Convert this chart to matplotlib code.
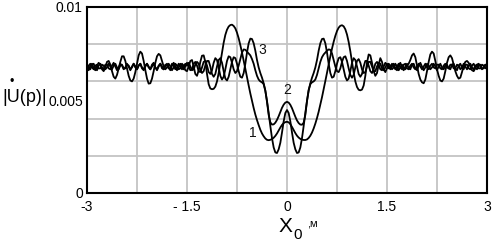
import numpy as np
import matplotlib
matplotlib.use("Agg")
import matplotlib.pyplot as plt

plt.rcParams['font.family'] = ['Liberation Sans', 'DejaVu Sans']

# values in units of 1e-3, sampled at x = -3 ... 3 (step 0.025)
curve1 = [
    6.75, 6.60, 6.85, 6.95, 6.70, 6.60, 6.85, 7.00, 6.90, 6.65,
    6.55, 6.75, 7.05, 7.10, 6.90, 6.55, 6.25, 6.15, 6.35, 6.70,
    7.05, 7.35, 7.35, 7.10, 6.70, 6.30, 6.05, 6.00, 6.15, 6.50,
    6.95, 7.40, 7.60, 7.50, 7.10, 6.60, 6.15, 5.88, 5.90, 6.15,
    6.55, 7.00, 7.35, 7.48, 7.40, 7.10, 6.80, 6.65, 6.75, 6.95,
    6.80, 6.60, 6.75, 6.95, 6.85, 6.65, 6.70, 6.95, 6.85, 6.60,
    6.55, 6.80, 7.10, 7.15, 6.80, 6.40, 6.30, 6.60, 7.05, 7.38,
    7.40, 7.05, 6.40, 5.85, 5.62, 5.58, 5.60, 5.72, 6.00, 6.45,
    7.00, 7.58, 8.08, 8.50, 8.78, 8.95, 9.03, 9.05, 8.98, 8.85,
    8.62, 8.32, 7.95, 7.55, 7.12, 6.68, 6.22, 5.78, 5.35, 4.95,
    4.57, 4.22, 3.92, 3.65, 3.40, 3.20, 3.05, 2.93, 2.86, 2.84,
    2.86, 2.90, 2.97, 3.07, 3.20, 3.36, 3.52, 3.66, 3.76, 3.81,
    3.83, 3.80, 3.70, 3.55, 3.38, 3.22, 3.08, 2.98, 2.91, 2.87,
    2.85, 2.85, 2.88, 2.96, 3.08, 3.25, 3.47, 3.73, 4.03, 4.37,
    4.75, 5.15, 5.58, 6.02, 6.47, 6.92, 7.35, 7.76, 8.13, 8.45,
    8.71, 8.89, 8.99, 9.02, 8.96, 8.80, 8.52, 8.12, 7.62, 7.05,
    6.48, 6.00, 5.70, 5.55, 5.52, 5.56, 5.78, 6.30, 7.00, 7.45,
    7.40, 7.00, 6.55, 6.30, 6.45, 6.90, 7.25, 7.05, 6.65, 6.50,
    6.70, 6.95, 6.85, 6.65, 6.75, 6.95, 6.80, 6.60, 6.75, 6.90,
    6.70, 6.65, 6.85, 6.95, 7.15, 7.40, 7.50, 7.30, 6.85, 6.40,
    6.10, 5.95, 5.90, 6.10, 6.55, 7.05, 7.45, 7.60, 7.50, 7.10,
    6.65, 6.30, 6.05, 6.00, 6.15, 6.55, 7.00, 7.30, 7.40, 7.25,
    6.90, 6.55, 6.30, 6.15, 6.20, 6.50, 6.85, 7.05, 7.10, 7.00,
    6.80, 6.60, 6.55, 6.70, 6.90, 6.95, 6.80, 6.65, 6.75, 6.90,
    6.80,
]

curve2 = [
    6.85, 6.70, 6.65, 6.90, 6.95, 6.70, 6.60, 6.85, 6.95, 6.75,
    6.65, 6.90, 6.90, 6.70, 6.65, 6.85, 7.00, 6.80, 6.60, 6.75,
    6.95, 6.85, 6.65, 6.75, 6.95, 6.80, 6.60, 6.80, 6.95, 6.75,
    6.65, 6.85, 6.95, 6.70, 6.60, 6.85, 6.95, 6.75, 6.65, 6.90,
    7.00, 6.75, 6.60, 6.80, 6.95, 6.80, 6.65, 6.80, 6.95, 6.75,
    6.60, 6.85, 7.00, 6.80, 6.60, 6.75, 6.95, 6.85, 6.65, 6.80,
    7.00, 6.80, 6.60, 6.65, 6.95, 7.05, 6.85, 6.55, 6.50, 6.75,
    7.05, 7.10, 6.85, 6.50, 6.40, 6.60, 7.00, 7.25, 7.15, 6.75,
    6.30, 6.10, 6.25, 6.65, 7.10, 7.35, 7.30, 7.00, 6.65, 6.45,
    6.55, 6.85, 7.20, 7.55, 7.72, 7.70, 7.60, 7.50, 7.40, 7.20,
    6.95, 6.60, 6.30, 6.10, 6.00, 5.95, 5.85, 5.50, 4.90, 4.20,
    3.80, 3.68, 3.69, 3.78, 3.93, 4.13, 4.36, 4.58, 4.75, 4.86,
    4.90, 4.86, 4.74, 4.56, 4.33, 4.10, 3.90, 3.76, 3.68, 3.67,
    3.78, 4.20, 4.95, 5.55, 5.85, 5.95, 6.00, 6.10, 6.35, 6.70,
    7.05, 7.30, 7.45, 7.55, 7.65, 7.72, 7.70, 7.50, 7.15, 6.80,
    6.55, 6.50, 6.70, 7.05, 7.30, 7.35, 7.10, 6.70, 6.35, 6.20,
    6.35, 6.75, 7.10, 7.20, 7.00, 6.65, 6.45, 6.50, 6.80, 7.05,
    7.05, 6.80, 6.55, 6.55, 6.80, 7.00, 6.95, 6.70, 6.60, 6.75,
    6.95, 6.85, 6.65, 6.80, 6.95, 6.70, 6.60, 6.85, 7.00, 6.75,
    6.60, 6.80, 6.95, 6.70, 6.65, 6.90, 6.95, 6.70, 6.60, 6.85,
    7.00, 6.80, 6.60, 6.75, 6.95, 6.85, 6.65, 6.75, 6.95, 6.80,
    6.60, 6.80, 6.95, 6.75, 6.65, 6.85, 6.90, 6.70, 6.65, 6.90,
    6.95, 6.70, 6.60, 6.85, 6.95, 6.75, 6.65, 6.90, 6.90, 6.70,
    6.65, 6.85, 6.95, 6.75, 6.65, 6.85, 6.90, 6.70, 6.70, 6.90,
    6.80,
]

curve3 = [
    6.70, 6.85, 6.95, 6.75, 6.65, 6.85, 6.90, 6.70, 6.70, 6.90,
    6.85, 6.65, 6.75, 6.95, 6.80, 6.65, 6.85, 6.95, 6.75, 6.65,
    6.85, 6.90, 6.70, 6.70, 6.90, 6.85, 6.65, 6.75, 6.95, 6.80,
    6.65, 6.85, 6.95, 6.75, 6.65, 6.80, 6.95, 6.80, 6.65, 6.80,
    6.95, 6.75, 6.65, 6.85, 6.95, 6.70, 6.65, 6.90, 6.90, 6.70,
    6.70, 6.95, 6.85, 6.65, 6.75, 6.95, 6.80, 6.65, 6.80, 6.95,
    6.85, 7.00, 6.80, 6.60, 6.65, 6.90, 7.05, 6.95, 6.65, 6.45,
    6.55, 6.85, 7.10, 7.10, 6.80, 6.40, 6.25, 6.40, 6.80, 7.15,
    7.25, 7.00, 6.55, 6.15, 6.05, 6.25, 6.65, 7.05, 7.30, 7.25,
    6.95, 6.55, 6.25, 6.20, 6.45, 6.95, 7.55, 8.05, 8.30, 8.28,
    8.05, 7.65, 7.15, 6.75, 6.45, 6.20, 5.90, 5.50, 4.95, 4.30,
    3.60, 2.95, 2.45, 2.18, 2.15, 2.35, 2.70, 3.25, 3.85, 4.30,
    4.46, 4.30, 3.85, 3.25, 2.70, 2.35, 2.15, 2.18, 2.45, 2.95,
    3.60, 4.30, 4.95, 5.50, 5.90, 6.20, 6.45, 6.75, 7.15, 7.65,
    8.05, 8.28, 8.30, 8.05, 7.55, 6.95, 6.45, 6.20, 6.25, 6.55,
    6.95, 7.25, 7.30, 7.05, 6.65, 6.25, 6.05, 6.15, 6.55, 7.00,
    7.25, 7.15, 6.80, 6.40, 6.25, 6.40, 6.80, 7.10, 7.10, 6.85,
    6.55, 6.45, 6.65, 6.95, 7.05, 6.90, 6.65, 6.60, 6.80, 7.00,
    6.90, 6.70, 6.75, 6.95, 6.85, 6.65, 6.80, 6.95, 6.75, 6.65,
    6.90, 6.95, 6.70, 6.65, 6.85, 6.95, 6.75, 6.65, 6.80, 6.95,
    6.80, 6.65, 6.80, 6.95, 6.75, 6.65, 6.85, 6.95, 6.75, 6.70,
    6.90, 6.90, 6.70, 6.65, 6.85, 6.95, 6.75, 6.70, 6.90, 6.90,
    6.70, 6.70, 6.90, 6.85, 6.65, 6.75, 6.95, 6.80, 6.65, 6.85,
    6.95, 6.75, 6.65, 6.85, 6.90, 6.70, 6.70, 6.90, 6.85, 6.70,
    6.80,
]

x_range = (-3.0, 3.0)
value_scale = 1e-3
x_ticks = [-3, -1.5, 0, 1.5, 3]
x_tick_labels = ['-3', '- 1.5', '0', '1.5', '3']
x_grid = [-2.25, -0.75, 0.75, 2.25]
y_ticks = [0, 0.005, 0.01]
y_tick_labels = ['0', '0.005', '0.01']
y_grid = [0.002, 0.004, 0.006, 0.008]
curve_labels = [('1', -0.52, 0.00320), ('2', 0.0, 0.00554), ('3', -0.375, 0.00770)]

W, H = 498, 248
fig = plt.figure(figsize=(W / 100, H / 100), dpi=100)
ax = fig.add_axes([87 / W, 1 - 193 / H, 400 / W, 186 / H])

x = np.linspace(x_range[0], x_range[1], len(curve1))
for c in (curve1, curve2, curve3):
    ax.plot(x, np.array(c) * value_scale, color='black', lw=1.3, zorder=3)

for lab, lx, ly in curve_labels:
    ax.text(lx, ly, lab, fontsize=10, ha='center', va='center', zorder=4,
            color='#111111')

ax.set_xlim(*x_range)
ax.set_ylim(0, 0.01)
ax.set_xticks(x_ticks, labels=x_tick_labels)
ax.set_xticks(x_grid, minor=True)
ax.set_yticks(y_ticks, labels=y_tick_labels)
ax.set_yticks(y_grid, minor=True)
ax.grid(False)
ax.xaxis.grid(True, which='both', color='#c4c4c4', lw=1.3)
ax.yaxis.grid(True, which='minor', color='#c4c4c4', lw=1.3)
ax.set_axisbelow(True)
ax.tick_params(which='both', length=0, labelsize=10, colors='black')
ax.tick_params(axis='x', pad=5)
ax.tick_params(axis='y', pad=3)
for s in ax.spines.values():
    s.set_linewidth(1.5)
    s.set_color('black')

def fx(px):
    return px / W

def fy(py):
    return 1 - py / H

# y label: |U(p)| with dot above U
fig.text(fx(2), fy(98), '|U(p)|', fontsize=13, ha='left', va='center')
fig.text(fx(12), fy(82), '•', fontsize=9, ha='center', va='center')

# x label: X0 ,м
fig.text(fx(285), fy(226), 'X', fontsize=15, ha='center', va='center')
fig.text(fx(298), fy(235), '0', fontsize=11, ha='center', va='center')
fig.text(fx(312), fy(223), ',м', fontsize=8, ha='center', va='center')

fig.savefig('out.png', dpi=100, facecolor='white')
